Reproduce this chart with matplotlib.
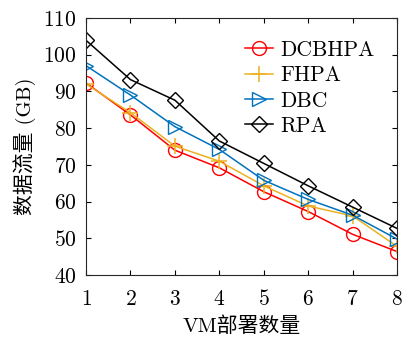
import matplotlib
matplotlib.use("Agg")
import matplotlib.pyplot as plt

plt.rcParams['font.family'] = ['cmr10', 'Noto Sans CJK SC', 'DejaVu Sans']
plt.rcParams['axes.formatter.use_mathtext'] = True
plt.rcParams['mathtext.fontset'] = 'cm'

# Data
vm_counts = [1, 2, 3, 4, 5, 6, 7, 8]
dcbhpa = [92.3, 83.6, 74.0, 69.2, 62.7, 57.3, 51.1, 46.4]
fhpa = [92.0, 84.2, 75.1, 71.0, 64.3, 58.8, 56.1, 47.8]
dbc = [97.0, 89.0, 80.4, 74.2, 65.8, 60.6, 56.3, 49.8]
rpa = [103.9, 93.2, 87.6, 76.5, 70.4, 64.3, 58.5, 52.7]

fig = plt.figure(figsize=(4.04, 3.38), dpi=100)
ax = fig.add_axes([0.213, 0.186, 0.77, 0.761])

ms = 10
ax.plot(vm_counts, dcbhpa, '-o', color='#FF0000', mfc='none', ms=ms, lw=1.1, label='DCBHPA')
ax.plot(vm_counts, fhpa, '-+', color='#EDB120', ms=ms + 2, lw=1.1, mew=1.1, label='FHPA')
ax.plot(vm_counts, dbc, '->', color='#0072BD', mfc='none', ms=ms, lw=1.1, label='DBC')
ax.plot(vm_counts, rpa, '-D', color='black', mfc='none', ms=ms - 2, lw=1.1, label='RPA')

ax.set_xlim(1, 8)
ax.set_ylim(40, 110)
ax.set_xticks(vm_counts)
ax.set_yticks(range(40, 111, 10))
ax.tick_params(direction='in', top=True, right=True, labelsize=15.5, length=3.5)
ax.tick_params(axis='x', pad=10)
ax.tick_params(axis='y', pad=7)
for s in ax.spines.values():
    s.set_color('#262626')
    s.set_linewidth(0.8)

ax.set_xlabel('VM部署数量', fontsize=15, labelpad=5)
ax.set_ylabel('数据流量 (GB)', fontsize=15, labelpad=5)

ax.legend(loc='upper right', frameon=False, fontsize=15.5, handlelength=1.3,
          labelspacing=0.27, handletextpad=0.35, borderaxespad=0.75,
          borderpad=0.3)

fig.savefig('out.png', dpi=100)
